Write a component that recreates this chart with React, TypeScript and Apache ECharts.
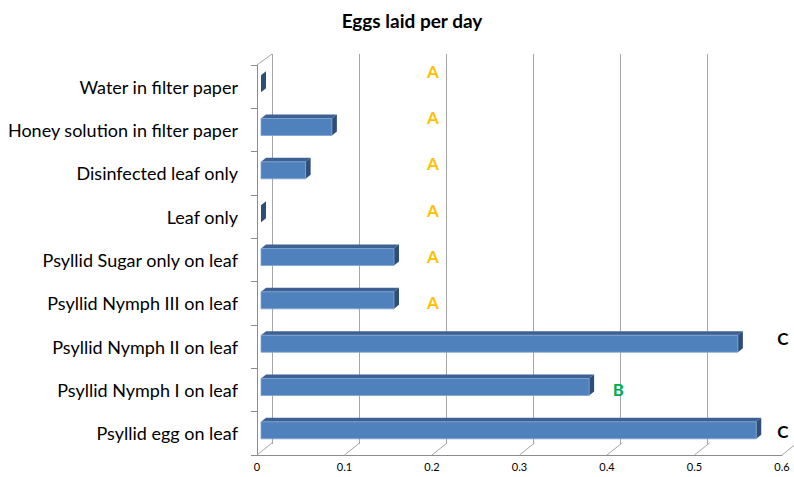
import React, { useEffect, useRef } from "react";
import * as echarts from "echarts";

const categories = [
  "Water in filter paper",
  "Honey solution in filter paper",
  "Disinfected leaf only",
  "Leaf only",
  "Psyllid Sugar only on leaf",
  "Psyllid Nymph III on leaf",
  "Psyllid Nymph II on leaf",
  "Psyllid Nymph I on leaf",
  "Psyllid egg on leaf",
];
const eggsPerDay = [0, 0.081, 0.051, 0, 0.152, 0.152, 0.545, 0.375, 0.566];
const xTicks = [0, 0.1, 0.2, 0.3, 0.4, 0.5, 0.6];
// significance letters: [x value, row position (0..9), letter]
const letters: [number, number, string][] = [
  [0.201, 0.16, "A"],
  [0.201, 1.22, "A"],
  [0.201, 2.28, "A"],
  [0.201, 3.35, "A"],
  [0.201, 4.43, "A"],
  [0.201, 5.47, "A"],
  [0.601, 6.32, "C"],
  [0.413, 7.48, "B"],
  [0.601, 8.45, "C"],
];
const letterColors: Record<string, string> = { A: "#FFC000", B: "#00B050", C: "#000000" };

const FONT = "Lato, 'Open Sans', sans-serif";
const DEPTH_X = 15;
const DEPTH_Y = 12;

export default function App() {
  const ref = useRef<HTMLDivElement>(null);
  useEffect(() => {
    document.body.style.margin = "0";
    const chart = echarts.init(ref.current!, undefined, { renderer: "svg" });
    const option: any = {
      animation: false,
      backgroundColor: "#ffffff",
      title: {
        text: "Eggs laid per day",
        left: 412,
        top: 11,
        padding: 0,
        textAlign: "center",
        textStyle: { fontFamily: FONT, fontSize: 19, fontWeight: "bold", color: "#000" },
      },
      grid: [
        { left: 257, right: 12, top: 65, bottom: 22 },
        { left: 272, right: -3, top: 54, bottom: 33 },
      ],
      xAxis: [
        {
          gridIndex: 0,
          type: "value",
          min: 0,
          max: 0.6,
          interval: 0.1,
          position: "bottom",
          axisLine: { show: true, onZero: false, lineStyle: { color: "#8C8C8C", width: 1 } },
          axisTick: { show: false },
          splitLine: { show: false },
          axisLabel: {
            margin: 6,
            fontFamily: FONT,
            fontSize: 11,
            color: "#000",
            showMaxLabel: true,
            showMinLabel: true,
          },
        },
        {
          gridIndex: 1,
          type: "value",
          min: 0,
          max: 0.6,
          interval: 0.1,
          axisLine: { show: false },
          axisTick: { show: false },
          axisLabel: { show: false },
          splitLine: { show: true, lineStyle: { color: "#A6A6A6", width: 1 } },
        },
      ],
      yAxis: [
        {
          gridIndex: 0,
          type: "category",
          data: categories,
          inverse: true,
          axisLine: { show: true, onZero: false, lineStyle: { color: "#8C8C8C", width: 1 } },
          axisTick: { show: true, length: 6, lineStyle: { color: "#8C8C8C" } },
          axisLabel: { margin: 19, fontFamily: FONT, fontSize: 18, color: "#000" },
          splitLine: { show: false },
        },
        {
          gridIndex: 0,
          type: "value",
          min: 0,
          max: 9,
          inverse: true,
          show: false,
          axisLine: { show: false, onZero: false },
          splitLine: { show: false },
        },
        {
          gridIndex: 1,
          type: "category",
          data: categories,
          inverse: true,
          show: false,
        },
      ],
      series: [
        {
          type: "custom",
          name: "frame",
          xAxisIndex: 0,
          yAxisIndex: 0,
          data: xTicks.map((v) => [v, 0]),
          encode: { x: 0 },
          silent: true,
          clip: false,
          z: 1,
          renderItem: (params: any, api: any) => {
            const cs = params.coordSys;
            const x = api.coord([api.value(0), 0])[0];
            const bottom = cs.y + cs.height;
            const children: any[] = [
              {
                type: "line",
                shape: { x1: x, y1: bottom, x2: x + DEPTH_X, y2: bottom - DEPTH_Y },
                style: { stroke: "#A6A6A6", lineWidth: 1 },
              },
            ];
            if (params.dataIndex === 0) {
              children.push({
                type: "line",
                shape: { x1: x, y1: cs.y, x2: x + DEPTH_X, y2: cs.y - DEPTH_Y + 1 },
                style: { stroke: "#A6A6A6", lineWidth: 1 },
              });
            }
            return { type: "group", children };
          },
        },
        {
          type: "custom",
          name: "Eggs laid per day",
          xAxisIndex: 0,
          yAxisIndex: 0,
          data: eggsPerDay.map((v, i) => [v, i]),
          encode: { x: 0, y: 1 },
          z: 3,
          renderItem: (params: any, api: any) => {
            const v = api.value(0);
            const cat = api.value(1);
            const base = api.coord([0, cat]);
            const end = api.coord([v, cat]);
            const dx = 4;
            const dy = -3;
            const h = 17;
            const dX = 5;
            const dY = 4;
            const x0 = base[0] + dx;
            const x1 = end[0] + dx;
            const yt = base[1] + dy - h / 2;
            const yb = yt + h;
            return {
              type: "group",
              children: [
                {
                  type: "polygon",
                  shape: { points: [[x0, yt], [x1, yt], [x1 + dX, yt - dY], [x0 + dX, yt - dY]] },
                  style: { fill: "#3D6193" },
                },
                {
                  type: "polygon",
                  shape: { points: [[x1, yt], [x1 + dX, yt - dY], [x1 + dX, yb - dY], [x1, yb]] },
                  style: { fill: "#2E4D78" },
                },
                {
                  type: "rect",
                  shape: { x: x0, y: yt, width: Math.max(x1 - x0, 0), height: h },
                  style: { fill: "#4F81BD", stroke: x1 - x0 > 1 ? "#7DA2CF" : "none", lineWidth: 0.8 },
                },
              ],
            };
          },
        },
        {
          type: "custom",
          name: "letters",
          xAxisIndex: 0,
          yAxisIndex: 1,
          silent: true,
          clip: false,
          z: 4,
          data: letters.map((d) => [d[0], d[1], d[2]]),
          encode: { x: 0, y: 1 },
          renderItem: (params: any, api: any) => {
            const p = api.coord([api.value(0), api.value(1)]);
            const letter = letters[params.dataIndex][2];
            return {
              type: "text",
              x: p[0],
              y: p[1],
              style: {
                text: letter,
                fill: letterColors[letter],
                fontFamily: FONT,
                fontSize: 17,
                fontWeight: "bold",
                align: "center",
                verticalAlign: "middle",
              },
            };
          },
        },
      ],
    };
    chart.setOption(option);
    return () => chart.dispose();
  }, []);
  return <div ref={ref} style={{ width: 794, height: 477 }} />;
}
